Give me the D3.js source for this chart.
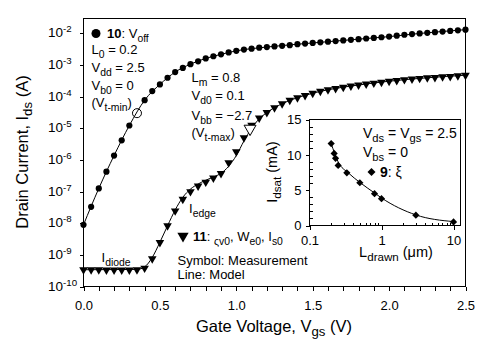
<!DOCTYPE html>
<html>
<head>
<meta charset="utf-8">
<script src="https://cdn.jsdelivr.net/npm/d3@7"></script>
<style>
    body { margin: 0; background: white; }
    svg { display: block; font-family: Arial, "Liberation Sans", sans-serif; }
    .axis path, .axis line { stroke: black; stroke-width: 1; shape-rendering: crispEdges; }
    .axis text { font-size: 13px; fill: black; }
</style>
</head>
<body>
<svg id="chart" width="500" height="352"></svg>
<script>

// Gate voltage samples (V)
const vgs = [0.00, 0.05, 0.10, 0.15, 0.20, 0.25, 0.30, 0.35, 0.40, 0.45,
             0.50, 0.55, 0.60, 0.65, 0.70, 0.75, 0.80, 0.85, 0.90, 0.95,
             1.00, 1.05, 1.10, 1.15, 1.20, 1.25, 1.30, 1.35, 1.40, 1.45,
             1.50, 1.55, 1.60, 1.65, 1.70, 1.75, 1.80, 1.85, 1.90, 1.95,
             2.00, 2.05, 2.10, 2.15, 2.20, 2.25, 2.30, 2.35, 2.40, 2.45, 2.50];

// log10(Ids) measured, circles (Vbb = 0)
const circleLogIds = [-8.05, -7.48, -6.90, -6.37, -5.86, -5.38, -4.91, -4.52, -4.11, -3.82,
                      -3.61, -3.40, -3.22, -3.09, -2.97, -2.88, -2.79, -2.72, -2.66, -2.60,
                      -2.55, -2.51, -2.48, -2.45, -2.43, -2.41, -2.39, -2.37, -2.34, -2.32,
                      -2.30, -2.28, -2.26, -2.24, -2.22, -2.20, -2.18, -2.16, -2.14, -2.12,
                      -2.10, -2.07, -2.04, -2.02, -2.00, -1.98, -1.96, -1.94, -1.92, -1.90, -1.88];

// log10(Ids) measured, triangles (Vbb = -2.7)
const triangleLogIds = [-9.47, -9.47, -9.47, -9.48, -9.48, -9.48, -9.48, -9.47, -9.42, -9.12,
                        -8.61, -8.08, -7.61, -7.24, -7.00, -6.82, -6.70, -6.57, -6.43, -6.09,
                        -5.74, -5.30, -4.90, -4.67, -4.50, -4.35, -4.22, -4.11, -4.03, -3.96,
                        -3.89, -3.83, -3.78, -3.74, -3.70, -3.66, -3.63, -3.60, -3.57, -3.54,
                        -3.51, -3.49, -3.46, -3.44, -3.42, -3.40, -3.39, -3.37, -3.36, -3.34, -3.32];

// Model lines
const circleModelV = [0.0, 0.1, 0.2, 0.3, 0.4, 0.5, 0.6, 0.7, 0.8, 0.9, 1.0, 1.2, 1.4, 1.6, 1.8, 2.0, 2.2, 2.5];
const circleModelLogIds = [-8.05, -6.90, -5.86, -4.91, -4.11, -3.61, -3.22, -2.97, -2.79, -2.66, -2.55, -2.43, -2.34, -2.26, -2.18, -2.10, -2.00, -1.88];
const triangleModelV = [0.00, 0.35, 0.40, 0.45, 0.50, 0.55, 0.60, 0.65, 0.70, 0.75, 0.80, 0.85, 0.90, 0.95,
                        1.00, 1.05, 1.10, 1.15, 1.20, 1.30, 1.40, 1.50, 1.60, 1.80, 2.00, 2.20, 2.50];
const triangleModelLogIds = [-9.47, -9.46, -9.38, -9.08, -8.60, -8.08, -7.58, -7.18, -6.92, -6.76, -6.64, -6.54, -6.42, -6.20,
                             -5.86, -5.40, -5.00, -4.70, -4.50, -4.22, -4.03, -3.89, -3.78, -3.63, -3.51, -3.42, -3.32];

// Threshold markers (open symbols)
const vtMin = { v: 0.35, logIds: -4.52 };
const vtMax = { v: 1.09, logIds: -5.01 };

// Inset: Idsat vs drawn length
const lDrawn = [0.2, 0.22, 0.23, 0.25, 0.33, 0.5, 0.8, 1.0, 3.0, 10.0];
const idsat = [11.6, 10.2, 9.5, 8.5, 7.45, 6.05, 4.5, 3.8, 1.46, 0.5];
const lDrawnModel = [0.2, 0.25, 0.35, 0.5, 0.8, 1.0, 3.0, 10.0];
const idsatModel = [11.6, 9.0, 7.4, 6.1, 4.6, 3.9, 1.5, 0.55];

// Axis ticks
const xMajorTicks = [0.0, 0.5, 1.0, 1.5, 2.0, 2.5];
const yDecades = [-10, -9, -8, -7, -6, -5, -4, -3, -2];
const insetYTicks = [0, 5, 10, 15];
const insetXTicks = [0.1, 1, 10];

const svg = d3.select('#chart');

// Layout
const PLOT = { left: 83.5, right: 465.5, top: 18.5, bottom: 286.5 };
const INSET = { left: 309.5, right: 460.5, top: 119.5, bottom: 225.5 };

const x = d3.scaleLinear().domain([0, 2.5]).range([PLOT.left, PLOT.right]);
const y = d3.scaleLog().domain([1e-10, Math.pow(10, -1.527)]).range([PLOT.bottom, PLOT.top]);
const ix = d3.scaleLog().domain([0.1, 12.5]).range([INSET.left, INSET.right]);
const iy = d3.scaleLinear().domain([0, 15]).range([INSET.bottom, INSET.top]);

// text with sub / sup / bold pieces
function rich(g, tx, ty, parts, size) {
    const t = g.append('text')
        .attr('x', tx).attr('y', ty)
        .attr('font-size', size || 13)
        .attr('fill', 'black');
    let shift = 0;
    parts.forEach((p) => {
        const s = typeof p === 'string' ? p : p[0];
        const kind = typeof p === 'string' ? null : p[1];
        const target = kind === 'sub' ? 4 : kind === 'sup' ? -5 : 0;
        const ts = t.append('tspan').attr('dy', target - shift).text(s);
        if (kind === 'sub' || kind === 'sup') ts.attr('font-size', '0.8em');
        if (kind === 'b') ts.attr('font-weight', 'bold');
        shift = target;
    });
    return t;
}

const triDown = (size) => d3.symbol().type(d3.symbolTriangle).size(size)();

// Main frame
svg.append('rect')
    .attr('x', PLOT.left).attr('y', PLOT.top)
    .attr('width', PLOT.right - PLOT.left).attr('height', PLOT.bottom - PLOT.top)
    .attr('fill', 'none').attr('stroke', 'black').attr('shape-rendering', 'crispEdges');

// X axis
svg.append('g')
    .attr('class', 'axis')
    .attr('transform', 'translate(0,' + PLOT.bottom + ')')
    .call(d3.axisBottom(x).ticks(25).tickSize(4).tickPadding(10)
        .tickFormat((d) => xMajorTicks.some((m) => Math.abs(m - d) < 1e-6) ? d.toFixed(1) : ''))
    .call((g) => g.select('.domain').remove());

// Y axis
svg.append('g')
    .attr('class', 'axis')
    .attr('transform', 'translate(' + PLOT.left + ',0)')
    .call(d3.axisLeft(y).tickValues(yDecades.map((e) => Math.pow(10, e))).tickSize(4).tickFormat(''))
    .call((g) => g.select('.domain').remove());

yDecades.forEach((e) => {
    rich(svg, 48, y(Math.pow(10, e)) + 4, ['10', [String(e), 'sup']], 13.5)
        .select('tspan:last-child').attr('font-size', '0.72em');
});

// Axis titles
rich(svg, 274, 332, ['Gate Voltage, V', ['gs', 'sub'], ' (V)'], 16.5)
    .attr('text-anchor', 'middle');
rich(svg.append('g').attr('transform', 'translate(28,152) rotate(-90)'), 0, 0,
    ['Drain Current, I', ['ds', 'sub'], ' (A)'], 16.5)
    .attr('text-anchor', 'middle');

// Model lines
const line = d3.line()
    .x((d) => x(d[0]))
    .y((d) => y(Math.pow(10, d[1])))
    .curve(d3.curveMonotoneX);

svg.append('path')
    .datum(circleModelV.map((v, i) => [v, circleModelLogIds[i]]))
    .attr('d', line)
    .attr('fill', 'none').attr('stroke', 'black').attr('stroke-width', 1);

svg.append('path')
    .datum(triangleModelV.map((v, i) => [v, triangleModelLogIds[i]]))
    .attr('d', line)
    .attr('fill', 'none').attr('stroke', 'black').attr('stroke-width', 1);

// Measured circles (the Vt-min point is drawn open below)
svg.append('g')
    .selectAll('circle')
    .data(vgs.map((v, i) => [v, circleLogIds[i]]).filter((d) => d[0] !== vtMin.v))
    .enter().append('circle')
        .attr('cx', (d) => x(d[0]))
        .attr('cy', (d) => y(Math.pow(10, d[1])))
        .attr('r', 3.1)
        .attr('fill', 'black');

// Measured triangles
svg.append('g')
    .selectAll('path')
    .data(vgs.map((v, i) => [v, triangleLogIds[i]]))
    .enter().append('path')
        .attr('d', triDown(32))
        .attr('transform', (d) => 'translate(' + x(d[0]) + ',' + y(Math.pow(10, d[1])) + ') rotate(180)')
        .attr('fill', 'black');

// Open threshold markers
svg.append('circle')
    .attr('cx', x(vtMin.v)).attr('cy', y(Math.pow(10, vtMin.logIds)))
    .attr('r', 4.5)
    .attr('fill', 'none').attr('stroke', 'black');
svg.append('path')
    .attr('d', triDown(62))
    .attr('transform', 'translate(' + x(vtMax.v) + ',' + y(Math.pow(10, vtMax.logIds)) + ') rotate(180)')
    .attr('fill', 'white').attr('stroke', 'black');

// Annotations, block 1
svg.append('circle').attr('cx', 96).attr('cy', 33.5).attr('r', 4.5).attr('fill', 'black');
rich(svg, 107, 38, [['10', 'b'], ': V', ['off', 'sub']]);
rich(svg, 91.5, 54, ['L', ['0', 'sub'], ' = 0.2']);
rich(svg, 91.5, 72, ['V', ['dd', 'sub'], ' = 2.5']);
rich(svg, 91.5, 89.5, ['V', ['b0', 'sub'], ' = 0']);
rich(svg, 91.5, 106.5, ['(V', ['t-min', 'sub'], ')']);

// Annotations, block 2
rich(svg, 191.5, 81.5, ['L', ['m', 'sub'], ' = 0.8']);
rich(svg, 191.5, 99.5, ['V', ['d0', 'sub'], ' = 0.1']);
rich(svg, 191.5, 119.5, ['V', ['bb', 'sub'], ' = \u22122.7']);
rich(svg, 191.5, 137, ['(V', ['t-max', 'sub'], ')']);

rich(svg, 189, 212.5, ['I', ['edge', 'sub']]);
rich(svg, 101.5, 261.5, ['I', ['diode', 'sub']]);

svg.append('path')
    .attr('d', triDown(55))
    .attr('transform', 'translate(183,236) rotate(180)')
    .attr('fill', 'black');
rich(svg, 193, 240.5, [['11', 'b'], ': ', ['\u03c2v0', 'sub'], ', W', ['e0', 'sub'], ', I', ['s0', 'sub']]);
rich(svg, 177.5, 265, ['Symbol: Measurement']);
rich(svg, 177.5, 279, ['Line: Model']);

// Inset
const inset = svg.append('g');
inset.append('rect')
    .attr('x', INSET.left).attr('y', INSET.top)
    .attr('width', INSET.right - INSET.left).attr('height', INSET.bottom - INSET.top)
    .attr('fill', 'white').attr('stroke', 'black').attr('shape-rendering', 'crispEdges');

// inset y ticks: majors outward, minors inward
inset.append('g')
    .attr('class', 'axis')
    .attr('transform', 'translate(' + INSET.left + ',0)')
    .call(d3.axisLeft(iy).tickValues(insetYTicks).tickSize(4).tickPadding(4))
    .call((g) => g.select('.domain').remove());
inset.append('g')
    .attr('class', 'axis')
    .attr('transform', 'translate(' + INSET.left + ',0)')
    .call(d3.axisRight(iy).tickValues(d3.range(1, 15).filter((d) => d % 5 !== 0)).tickSize(3).tickFormat(''))
    .call((g) => g.select('.domain').remove());

// inset x ticks: majors outward, minors inward
inset.append('g')
    .attr('class', 'axis')
    .attr('transform', 'translate(0,' + INSET.bottom + ')')
    .call(d3.axisBottom(ix).tickValues(insetXTicks).tickSize(4).tickPadding(6).tickFormat(d3.format('')))
    .call((g) => g.select('.domain').remove());
inset.append('g')
    .attr('class', 'axis')
    .attr('transform', 'translate(0,' + INSET.bottom + ')')
    .call(d3.axisTop(ix).tickValues(ix.ticks().filter((d) => insetXTicks.indexOf(d) < 0 && d <= 12)).tickSize(3).tickFormat(''))
    .call((g) => g.select('.domain').remove());

// inset model line
inset.append('path')
    .datum(lDrawnModel.map((l, i) => [l, idsatModel[i]]))
    .attr('d', d3.line().x((d) => ix(d[0])).y((d) => iy(d[1])).curve(d3.curveMonotoneX))
    .attr('fill', 'none').attr('stroke', 'black').attr('stroke-width', 1);

// inset diamonds
inset.append('g')
    .selectAll('path')
    .data(lDrawn.map((l, i) => [l, idsat[i]]))
    .enter().append('path')
        .attr('d', d3.symbol().type(d3.symbolSquare).size(26)())
        .attr('transform', (d) => 'translate(' + ix(d[0]) + ',' + iy(d[1]) + ') rotate(45)')
        .attr('fill', 'black');

// inset texts
rich(inset, 363, 137.5, ['V', ['ds', 'sub'], ' = V', ['gs', 'sub'], ' = 2.5'], 14);
rich(inset, 363, 156.5, ['V', ['bs', 'sub'], ' = 0'], 14);
inset.append('path')
    .attr('d', d3.symbol().type(d3.symbolSquare).size(32)())
    .attr('transform', 'translate(371.5,172) rotate(45)')
    .attr('fill', 'black');
rich(inset, 380, 176.5, [['9', 'b'], ': \u03be'], 14);

rich(svg, 396, 257, ['L', ['drawn', 'sub'], ' (\u03bcm)'], 14.5)
    .attr('text-anchor', 'middle');
rich(svg.append('g').attr('transform', 'translate(277,172) rotate(-90)'), 0, 0,
    ['I', ['dsat', 'sub'], ' (mA)'], 14.5)
    .attr('text-anchor', 'middle');

</script>
</body>
</html>
